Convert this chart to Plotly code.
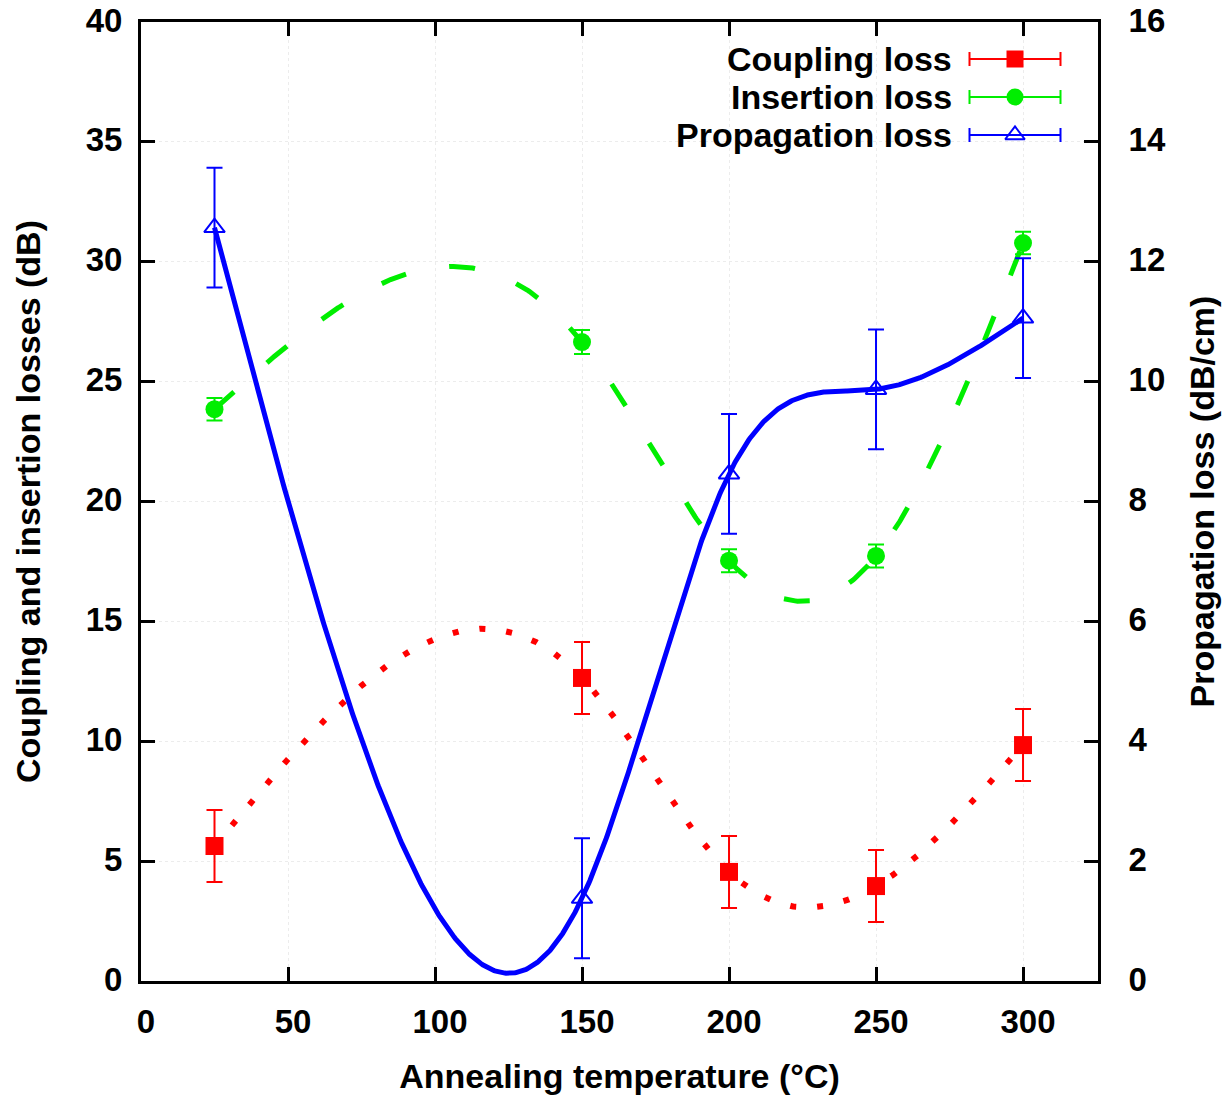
import numpy as np
import plotly.graph_objects as go

# ---------------- data ----------------
temps = [25, 150, 200, 250, 300]
coupling = [5.63, 12.64, 4.55, 3.96, 9.84]
coupling_err = [1.5, 1.5, 1.5, 1.5, 1.5]
insertion = [23.85, 26.65, 17.53, 17.73, 30.78]
insertion_err = [0.47, 0.5, 0.48, 0.48, 0.47]
propagation = [12.57, 1.38, 8.46, 9.87, 11.06]
propagation_err = [1.0, 1.0, 1.0, 1.0, 1.0]

x_ticks = [0, 50, 100, 150, 200, 250, 300]
y_ticks = [0, 5, 10, 15, 20, 25, 30, 35, 40]
y2_ticks = [0, 2, 4, 6, 8, 10, 12, 14, 16]
legend_names = ["Coupling loss", "Insertion loss", "Propagation loss"]


def natural_spline(x, y, xs):
    """Natural cubic spline (as gnuplot 'smooth csplines')."""
    x = np.asarray(x, float)
    y = np.asarray(y, float)
    n = len(x)
    h = np.diff(x)
    A = np.zeros((n, n))
    b = np.zeros(n)
    A[0, 0] = 1
    A[-1, -1] = 1
    for i in range(1, n - 1):
        A[i, i - 1] = h[i - 1]
        A[i, i] = 2 * (h[i - 1] + h[i])
        A[i, i + 1] = h[i]
        b[i] = 6 * ((y[i + 1] - y[i]) / h[i] - (y[i] - y[i - 1]) / h[i - 1])
    M = np.linalg.solve(A, b)
    out = np.empty_like(xs)
    for k, xv in enumerate(xs):
        i = min(max(np.searchsorted(x, xv) - 1, 0), n - 2)
        hi = h[i]
        t = (xv - x[i]) / hi
        out[k] = (y[i] * (1 - t) + y[i + 1] * t
                  + hi * hi / 6 * (((1 - t) ** 3 - (1 - t)) * M[i] + (t ** 3 - t) * M[i + 1]))
    return out


xs = np.linspace(temps[0], temps[-1], 800)

RED = "#ff0000"
GREEN = "#00ee00"
BLUE = "#0000ff"
FONT = "Liberation Sans, Arial, sans-serif"
TICK_SIZE = 33
TEXT_SIZE = 34

fig = go.Figure()

# fitted curves
fig.add_trace(go.Scatter(x=xs, y=natural_spline(temps, coupling, xs), mode="lines",
                         line=dict(color=RED, width=6, dash="6px,21px"),
                         showlegend=False, hoverinfo="skip"))
fig.add_trace(go.Scatter(x=xs, y=natural_spline(temps, insertion, xs), mode="lines",
                         line=dict(color=GREEN, width=5, dash="26px,44px"),
                         showlegend=False, hoverinfo="skip"))
fig.add_trace(go.Scatter(x=xs, y=natural_spline(temps, propagation, xs), mode="lines",
                         line=dict(color=BLUE, width=5),
                         yaxis="y2", showlegend=False, hoverinfo="skip"))

# data points with error bars
fig.add_trace(go.Scatter(x=temps, y=coupling, mode="markers", name=legend_names[0],
                         marker=dict(symbol="square", size=18, color=RED),
                         error_y=dict(type="data", array=coupling_err, color=RED,
                                      thickness=2, width=8),
                         showlegend=False))
fig.add_trace(go.Scatter(x=temps, y=insertion, mode="markers", name=legend_names[1],
                         marker=dict(symbol="circle", size=18, color=GREEN),
                         error_y=dict(type="data", array=insertion_err, color=GREEN,
                                      thickness=2, width=8),
                         showlegend=False))
fig.add_trace(go.Scatter(x=temps, y=propagation, mode="markers", name=legend_names[2],
                         marker=dict(symbol="triangle-up-open", size=18, color=BLUE,
                                     line=dict(width=2, color=BLUE)),
                         error_y=dict(type="data", array=propagation_err, color=BLUE,
                                      thickness=2, width=8),
                         yaxis="y2", showlegend=False))

# custom legend (gnuplot style: text left, sample right) on a pixel overlay axis
L, R, T, B = 141, 1098, 22, 981
leg_rows = [59, 97, 135]
leg_styles = [
    dict(symbol="square", size=17, color=RED),
    dict(symbol="circle", size=17, color=GREEN),
    dict(symbol="triangle-up-open", size=17, color=BLUE, line=dict(width=2, color=BLUE)),
]
leg_colors = [RED, GREEN, BLUE]
for name, ypix, mk, col in zip(legend_names, leg_rows, leg_styles, leg_colors):
    fig.add_trace(go.Scatter(x=[1015], y=[ypix], mode="markers", marker=mk,
                             error_x=dict(type="constant", value=45.5, color=col,
                                          thickness=2, width=7),
                             xaxis="x3", yaxis="y3", showlegend=False, hoverinfo="skip"))
    fig.add_annotation(x=954, y=ypix, xref="x3", yref="y3", text=name,
                       showarrow=False, xanchor="right", yanchor="middle",
                       font=dict(family=FONT, size=TEXT_SIZE, color="black", weight="bold"))

W, H = 1230, 1103
axis_common = dict(showline=True, linecolor="black", linewidth=3,
                   ticks="inside", ticklen=14, tickwidth=3, tickcolor="black",
                   zeroline=False, automargin=False,
                   tickfont=dict(family=FONT, size=TICK_SIZE, color="black", weight="bold"))
title_font = dict(family=FONT, size=TEXT_SIZE, color="black", weight="bold")

fig.update_layout(
    width=W, height=H,
    margin=dict(l=L, r=W - R, t=T, b=H - B),
    plot_bgcolor="white", paper_bgcolor="white",
    xaxis=dict(range=[0, 325.5], tickvals=x_ticks, mirror="ticks",
               showgrid=True, gridcolor="#ececec", griddash="dot", gridwidth=1,
               ticklabelstandoff=9, ticklabelshift=5,
               title=dict(text="Annealing temperature (°C)", standoff=26, font=title_font),
               **axis_common),
    yaxis=dict(range=[0, 40], tickvals=y_ticks,
               showgrid=True, gridcolor="#ececec", griddash="dot", gridwidth=1,
               ticklabelstandoff=9, ticklabelshift=-2,
               title=dict(text="Coupling and insertion losses (dB)", standoff=35, font=title_font),
               **axis_common),
    yaxis2=dict(range=[0, 16], tickvals=y2_ticks, overlaying="y", side="right",
                showgrid=False, ticklabelstandoff=21, ticklabelshift=-2,
                title=dict(text="Propagation loss (dB/cm)", standoff=26, font=title_font),
                **axis_common),
    xaxis3=dict(range=[L, R], overlaying="x", visible=False, anchor="y3"),
    yaxis3=dict(range=[B, T], overlaying="y", visible=False, anchor="x3"),
)

fig.write_html("out.html")
